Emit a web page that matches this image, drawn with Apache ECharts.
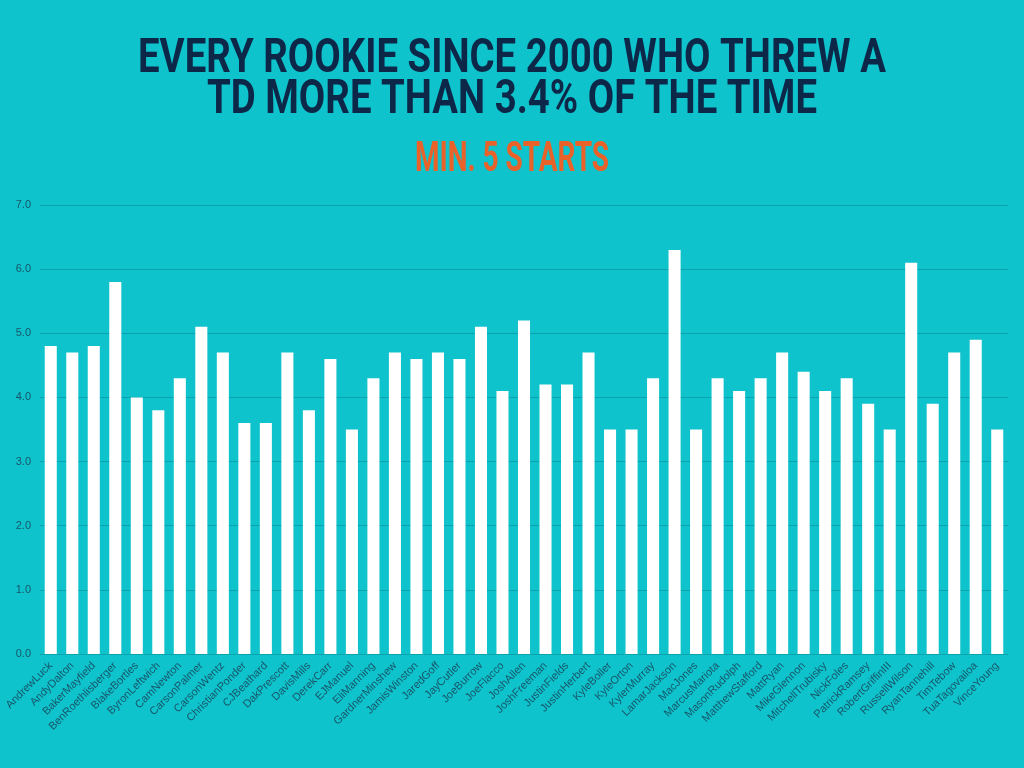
<!DOCTYPE html>
<html><head><meta charset="utf-8">
<script src="https://cdn.jsdelivr.net/npm/echarts@6/dist/echarts.min.js"></script>
<style>html,body{margin:0;padding:0;background:#0fc3cc;}#c{width:1024px;height:768px;}</style>
</head><body><div id="c"></div>
<script>
const players = ["AndrewLuck","AndyDalton","BakerMayfield","BenRoethlisberger","BlakeBortles","ByronLeftwich","CamNewton","CarsonPalmer","CarsonWentz","ChristianPonder","CJBeathard","DakPrescott","DavisMills","DerekCarr","EJManuel","EliManning","GardnerMinshew","JamisWinston","JaredGoff","JayCutler","JoeBurrow","JoeFlacco","JoshAllen","JoshFreeman","JustinFields","JustinHerbert","KyleBoller","KyleOrton","KylerMurray","LamarJackson","MacJones","MarcusMariota","MasonRudolph","MatthewStafford","MattRyan","MikeGlennon","MitchellTrubisky","NickFoles","PatrickRamsey","RobertGriffinIII","RussellWilson","RyanTannehill","TimTebow","TuaTagovailoa","VinceYoung"];
const tdPct = [4.8,4.7,4.8,5.8,4.0,3.8,4.3,5.1,4.7,3.6,3.6,4.7,3.8,4.6,3.5,4.3,4.7,4.6,4.7,4.6,5.1,4.1,5.2,4.2,4.2,4.7,3.5,3.5,4.3,6.3,3.5,4.3,4.1,4.3,4.7,4.4,4.1,4.3,3.9,3.5,6.1,3.9,4.7,4.9,3.5];
const titleLine1 = "EVERY ROOKIE SINCE 2000 WHO THREW A";
const titleLine2 = "TD MORE THAN 3.4% OF THE TIME";
const subtitleText = "MIN. 5 STARTS";
const chart = echarts.init(document.getElementById('c'));
function tallText(text, y, size, sx, sy, color) {
  return {
    type: 'text', x: 512, y: y, scaleX: sx, scaleY: sy, originX: 0, originY: 0,
    style: {text: text, fill: color, font: 'bold ' + size + 'px Roboto', textAlign: 'center', textVerticalAlign: 'middle'}
  };
}
chart.setOption({
  backgroundColor: '#0fc3cc',
  animation: false,
  graphic: [
    tallText(titleLine1, 60, 38, 1.01, 1.26, '#0d2748'),
    tallText(titleLine2, 101, 38, 1.01, 1.26, '#0d2748'),
    tallText(subtitleText, 160, 28, 1.0, 1.5, '#e8622a')
  ],
  grid: {left: 40, right: 16, top: 205, bottom: 114},
  xAxis: {
    type: 'category', data: players,
    axisLine: {show: true, lineStyle: {color: '#0aa2ad'}},
    axisTick: {show: false},
    axisLabel: {rotate: 45, interval: 0, color: '#17566a', fontSize: 11, fontFamily: 'Liberation Sans', margin: 10}
  },
  yAxis: {
    type: 'value', min: 0, max: 7, interval: 1,
    axisLabel: {formatter: v => v.toFixed(1), color: '#17566a', fontSize: 11, fontFamily: 'Liberation Sans', margin: 9},
    splitLine: {lineStyle: {color: '#0aa2ad', width: 1}},
    axisLine: {show: false}, axisTick: {show: false}
  },
  series: [{
    type: 'bar', data: tdPct, barWidth: '56%',
    itemStyle: {color: '#ffffff'}
  }]
});
</script></body></html>
